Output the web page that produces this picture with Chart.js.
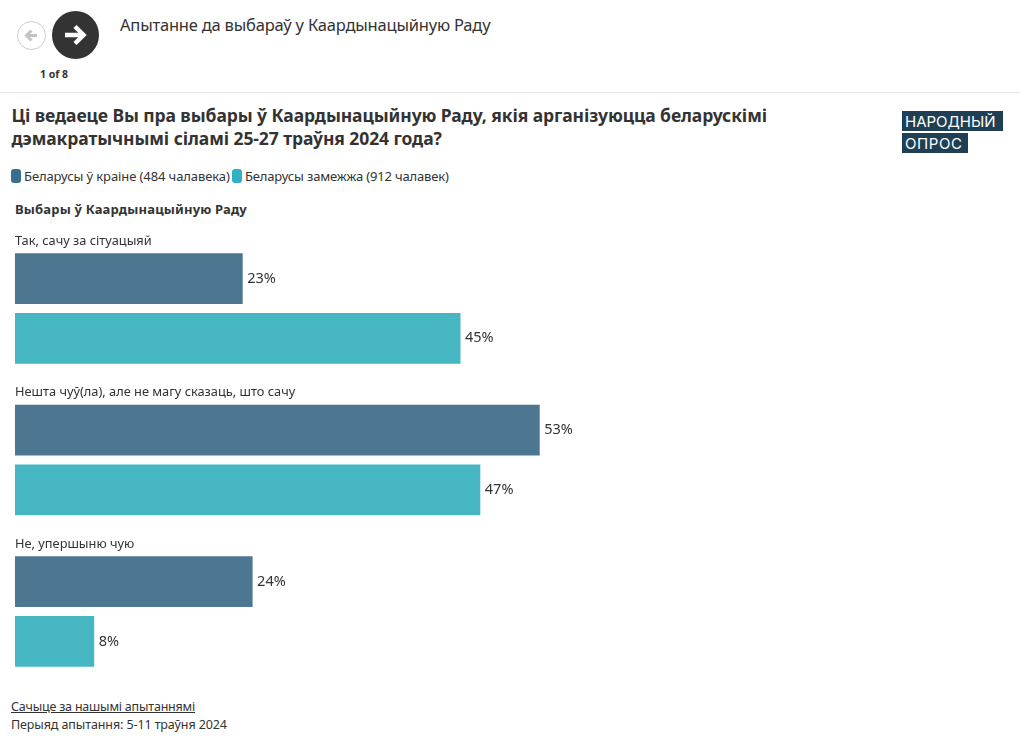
<!DOCTYPE html>
<html>
<head>
<meta charset="utf-8">
<script src="https://cdn.jsdelivr.net/npm/chart.js@4"></script>
<style>
  html, body { margin: 0; padding: 0; background: #fff; }
  body { width: 1020px; height: 743px; position: relative; overflow: hidden; font-family: "Noto Sans", sans-serif; color: #333; }
  .abs { position: absolute; white-space: nowrap; }
  .btn { position: absolute; border-radius: 50%; box-sizing: border-box; }
  #chartbox { position: absolute; left: 0; top: 225px; width: 1020px; height: 470px; }
  #chart { display: block; }
  .swatch { position: absolute; width: 10px; height: 14px; border-radius: 3px; }
  .logo { position: absolute; background: #1f3f54; color: #fff; font-family: Inter, sans-serif; font-weight: 400; font-size: 15px; line-height: 21px; padding-left: 3px; box-sizing: border-box; }
</style>
</head>
<body>
  <div class="btn" style="left:17px;top:21px;width:29px;height:29px;border:1px solid #ccc;"></div>
  <svg class="abs" style="left:23px;top:27px" width="17" height="17" viewBox="0 0 17 17"><path d="M14 8.500H4M8.500 3.500L3.500 8.500L8.500 13.500" fill="none" stroke="#c4c4c4" stroke-width="3"/></svg>
  <div class="btn" style="left:52px;top:11px;width:47px;height:48px;background:#333;"></div>
  <svg class="abs" style="left:62px;top:22px" width="26" height="26" viewBox="0 0 26 26"><path d="M3 13H21M13 4.500L21.500 13L13 21.500" fill="none" stroke="#fff" stroke-width="4.500"/></svg>
  <div class="abs" style="left:40px;top:67px;font-size:10.500px;font-weight:700;">1 of 8</div>
  <div class="abs" style="left:120px;top:13px;font-size:16.500px;letter-spacing:-0.2px;">Апытанне да выбараў у Каардынацыйную Раду</div>
  <div class="abs" style="left:0;top:92px;width:1020px;height:1px;background:#e8e8e8;"></div>

  <div class="abs" style="left:11.500px;top:104px;font-size:17.500px;font-weight:700;line-height:23px;letter-spacing:-0.09px;">Ці ведаеце Вы пра выбары ў Каардынацыйную Раду, якія арганізуюцца беларускімі<br>дэмакратычнымі сіламі 25-27 траўня 2024 года?</div>

  <div class="logo" style="left:902px;top:111px;width:101px;height:20px;">НАРОДНЫЙ</div>
  <div class="logo" style="left:902px;top:133px;width:66px;height:20px;letter-spacing:0.6px;">ОПРОС</div>

  <div class="swatch" style="left:11px;top:169px;background:#376f8d;"></div>
  <div class="abs" style="left:24px;top:167px;font-size:13px;letter-spacing:-0.1px;">Беларусы ў краіне (484 чалавека)</div>
  <div class="swatch" style="left:232px;top:169px;background:#2fb0c4;"></div>
  <div class="abs" style="left:245px;top:167px;font-size:13px;letter-spacing:-0.16px;">Беларусы замежжа (912 чалавек)</div>

  <div class="abs" style="left:15px;top:200px;font-size:13px;font-weight:700;letter-spacing:0.17px;">Выбары ў Каардынацыйную Раду</div>

  <div id="chartbox"><canvas id="chart" width="1020" height="470"></canvas></div>

  <div class="abs" style="left:11px;top:698px;font-size:12.500px;letter-spacing:-0.2px;text-decoration:underline;">Сачыце за нашымі апытаннямі</div>
  <div class="abs" style="left:11px;top:716px;font-size:12.500px;letter-spacing:-0.1px;">Перыяд апытання: 5-11 траўня 2024</div>

<script>
const categories = ['Так, сачу за сітуацыяй', 'Нешта чуў(ла), але не магу сказаць, што сачу', 'Не, упершыню чую'];
const inCountry = [23, 53, 24];
const abroad = [45, 47, 8];
const seriesNames = ['Беларусы ў краіне (484 чалавека)', 'Беларусы замежжа (912 чалавек)'];

// value labels at the end of each bar
const barLabels = {
    id: 'barLabels',
    afterDatasetsDraw(chart) {
        const {ctx} = chart;
        ctx.save();
        ctx.font = '14.500px "Noto Sans"';
        ctx.fillStyle = '#333';
        ctx.textAlign = 'left';
        ctx.textBaseline = 'middle';
        chart.data.datasets.forEach((ds, i) => {
            chart.getDatasetMeta(i).data.forEach((bar, j) => {
                ctx.fillText(ds.data[j] + '%', bar.x + 4.5, bar.y);
            });
        });
        ctx.restore();
    }
};

new Chart(document.getElementById('chart'), {
    type: 'bar',
    data: {
        labels: categories,
        datasets: [
            { label: seriesNames[0], data: inCountry, backgroundColor: '#4d7690' },
            { label: seriesNames[1], data: abroad, backgroundColor: '#46b6c3' },
        ]
    },
    options: {
        indexAxis: 'y',
        responsive: false,
        animation: false,
        events: [],
        categoryPercentage: 0.789,
        barPercentage: 0.85,
        layout: { padding: { left: 15, right: 15, top: 6.5, bottom: 7.5 } },
        plugins: { legend: { display: false }, tooltip: { enabled: false } },
        scales: {
            x: { display: false, min: 0, max: 100 },
            y: {
                grid: { display: false },
                border: { display: false },
                afterFit(scale) { scale.width = 0; },
                ticks: {
                    mirror: true,
                    padding: 0,
                    labelOffset: -67.6,
                    color: '#333',
                    font: { family: '"Noto Sans"', size: 12.8 }
                }
            }
        }
    },
    plugins: [barLabels]
});
</script>
</body>
</html>
